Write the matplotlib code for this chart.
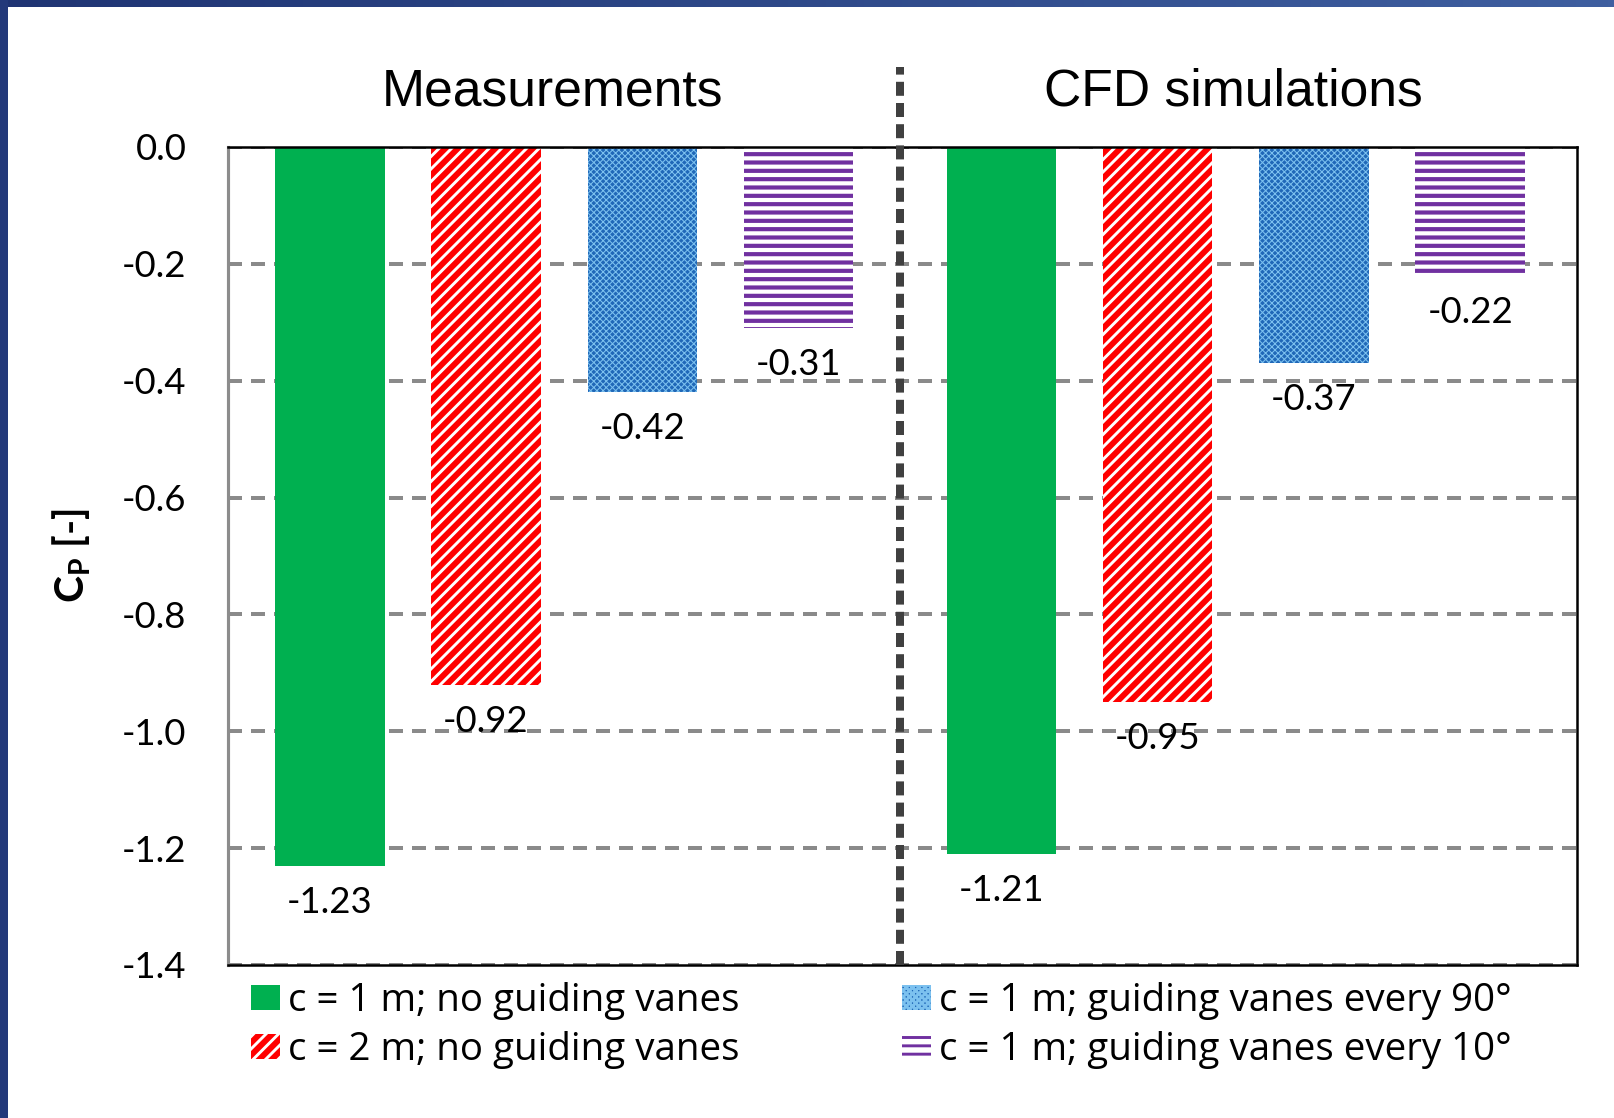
import numpy as np
import matplotlib
matplotlib.use("Agg")
import matplotlib.pyplot as plt
from matplotlib.patches import Rectangle
from matplotlib.colors import LinearSegmentedColormap

# ---------------- data ----------------
groups = ["Measurements", "CFD simulations"]
series = ["c = 1 m; no guiding vanes",
          "c = 2 m; no guiding vanes",
          "c = 1 m; guiding vanes every 90°",
          "c = 1 m; guiding vanes every 10°"]
measured = [-1.23, -0.92, -0.42, -0.31]
cfd = [-1.21, -0.95, -0.37, -0.22]
yticks = [0.0, -0.2, -0.4, -0.6, -0.8, -1.0, -1.2, -1.4]
ylabel = r"$\mathbf{C_P}$ [-]"

# ---------------- figure ----------------
DPI = 150
W, H = 1614, 1118
plt.rcParams['font.family'] = ['Lato', 'DejaVu Sans']
plt.rcParams['mathtext.fontset'] = 'custom'
plt.rcParams['mathtext.rm'] = 'Lato'
plt.rcParams['mathtext.bf'] = 'Lato:bold'
plt.rcParams['hatch.linewidth'] = 1.4

fig = plt.figure(figsize=(W / DPI, H / DPI), dpi=DPI)
fig.patch.set_facecolor('white')

def fx(px):
    return px / W

def fy(py):
    return 1 - py / H

ax = fig.add_axes([fx(228), fy(965), fx(1577) - fx(228), fy(147) - fy(965)])

styles = [
    dict(facecolor='#00B050', edgecolor='#00B050', hatch=None, hlw=None),
    dict(facecolor='#FF0000', edgecolor='white', hatch='////', hlw=1.4),
    dict(facecolor='#2068B8', edgecolor='#7CC1EF', hatch='xxxxxxxx', hlw=0.5),
    dict(facecolor='white', edgecolor='#7030A0', hatch='---', hlw=2.0),
]

group_offset = 4.3
bar_w = 0.70
values = [measured, cfd]
handles = []
for gi, vals in enumerate(values):
    xs = np.arange(len(vals)) + gi * group_offset
    for si, (x, v) in enumerate(zip(xs, vals)):
        st = styles[si]
        b = ax.bar(x, v, width=bar_w, facecolor=st['facecolor'],
                   edgecolor=st['edgecolor'], hatch=st['hatch'],
                   linewidth=0, zorder=3, label=series[si] if gi == 0 else None)
        if st['hlw'] is not None:
            for p in b.patches:
                try:
                    p.set_hatch_linewidth(st['hlw'])
                except AttributeError:
                    pass
        if gi == 0:
            handles.append(b.patches[0])
        ax.annotate(f"{v:.2f}", xy=(x, v), xytext=(0, -22.6),
                    textcoords='offset points', ha='center', va='baseline',
                    fontsize=17.5, color='black', zorder=5)

ax.set_xlim(-0.652, 7.984)
ax.set_ylim(-1.4, 0.0)
ax.set_yticks(yticks)
ax.set_yticklabels([f"{t:.1f}" for t in yticks])
ax.set_xticks([])
ax.tick_params(axis='y', length=0, pad=20, labelsize=17.5, labelcolor='black')

# gridlines
for t in yticks:
    ax.axhline(t, color='#8A8A8A', lw=1.92, linestyle=(0, (3.5, 2.25)),
               zorder=1)

for s in ['top', 'right', 'bottom']:
    ax.spines[s].set_color('black')
    ax.spines[s].set_linewidth(1.2)
    ax.spines[s].set_zorder(4)
ax.spines['left'].set_color('#8C8C8C')
ax.spines['left'].set_linewidth(1.5)

# divider
xdiv = (len(measured) - 1 + group_offset) / 2
ax.plot([xdiv, xdiv], [0, 1.098], transform=ax.get_xaxis_transform(),
        color='#404040', lw=3.84, linestyle=(0, (1.75, 0.9)),
        solid_capstyle='butt', dash_capstyle='butt', clip_on=False, zorder=6)

# group titles
fig.text(fx(552), fy(106), groups[0], ha='center', va='baseline',
         fontsize=24.8, family='Liberation Sans', color='black')
fig.text(fx(1233), fy(106), groups[1], ha='center', va='baseline',
         fontsize=24.8, family='Liberation Sans', color='black')

# y label
fig.text(fx(72), fy(556), ylabel, rotation=90, ha='center', va='center',
         fontsize=19.5, fontweight='bold')

# legends
leg_kw = dict(frameon=False, prop=dict(family='Open Sans', size=18.5),
              handlelength=0.76, handleheight=0.64,
              handletextpad=0.2, labelspacing=0.28, borderpad=0,
              borderaxespad=0, loc='upper left', bbox_transform=fig.transFigure)
leg1 = fig.legend(handles[:2], series[:2], bbox_to_anchor=(fx(251), fy(982)), **leg_kw)
leg2 = fig.legend(handles[2:], series[2:], bbox_to_anchor=(fx(902), fy(982)), **leg_kw)

# blue frame (left and top strips)
cmap = LinearSegmentedColormap.from_list('frame', ['#1F3473', '#3F5FA0'])
top_ax = fig.add_axes([0, fy(7), 1, 7 / H])
top_ax.imshow(np.linspace(0, 1, 256)[None, :], aspect='auto', cmap=cmap)
top_ax.axis('off')
fig.patches.append(Rectangle((0, 0), 8 / W, 1, transform=fig.transFigure,
                             facecolor='#23397A', edgecolor='none', zorder=10))

fig.savefig('out.png', dpi=DPI, facecolor='white')
